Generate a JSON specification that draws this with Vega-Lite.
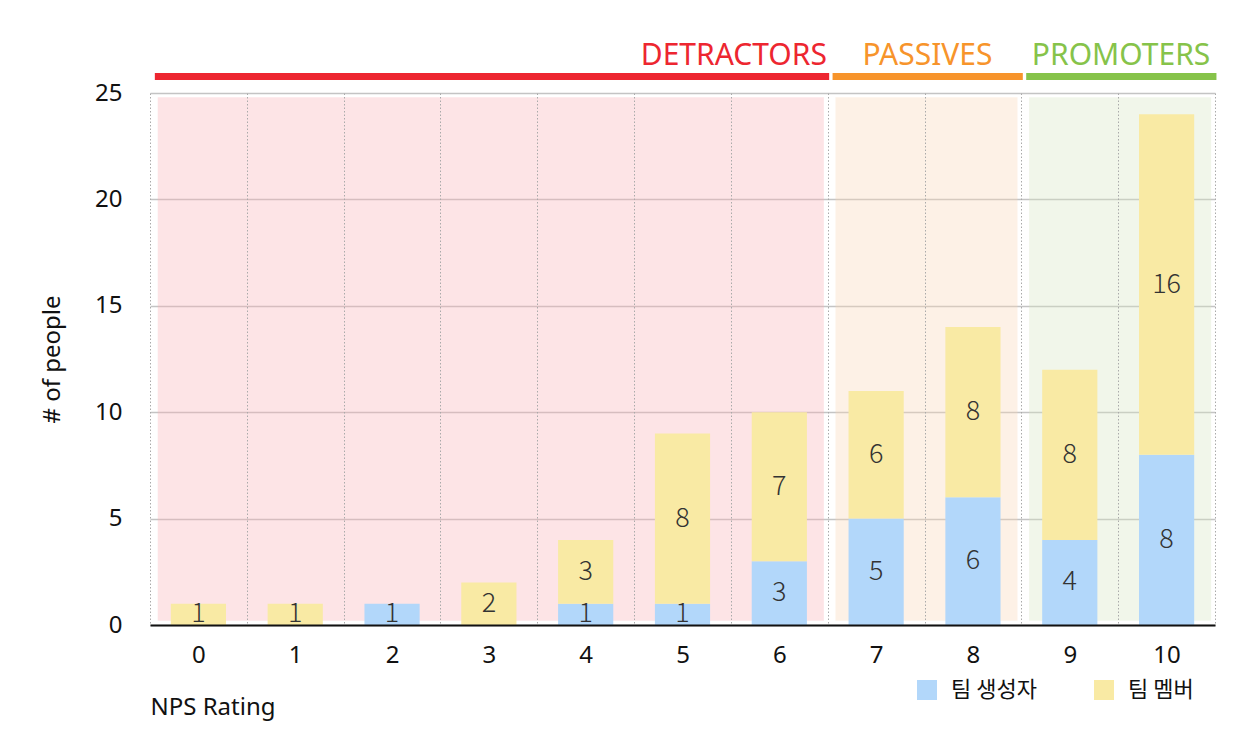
{
  "$schema": "https://vega.github.io/schema/vega-lite/v6.json",
  "width": 1065,
  "height": 532,
  "autosize": {"type": "none"},
  "padding": {"left": 150, "top": 93, "right": 43, "bottom": 123},
  "background": "white",
  "config": {
    "view": {"stroke": null},
    "font": "Noto Sans",
    "axisX": {
      "labelFontSize": 24, "labelColor": "#111", "labelPadding": 18, "labelAngle": 0,
      "ticks": false, "domain": true, "domainColor": "#111", "domainWidth": 2,
      "grid": true, "gridDash": [1.5, 2], "gridColor": "#aaaaaa", "gridWidth": 1, "tickBand": "extent",
      "titleAnchor": "start", "titleAlign": "left", "titleFontSize": 24, "titleFontWeight": "normal",
      "titleColor": "#111", "titlePadding": 28
    },
    "axisY": {
      "labelFontSize": 24, "labelColor": "#111", "labelPadding": 28,
      "ticks": false, "domain": false, "grid": true, "gridColor": "#c4c4c4", "gridWidth": 1.5,
      "titleFontSize": 24, "titleFontWeight": "normal", "titleColor": "#111", "titlePadding": 30
    },
    "legend": {
      "orient": "none", "legendX": 766, "legendY": 586, "direction": "horizontal",
      "symbolType": "square", "symbolSize": 400, "symbolStrokeWidth": 0,
      "labelFontSize": 22, "labelFont": "Noto Sans CJK KR", "labelColor": "#111", "labelOffset": 13,
      "columnPadding": 56, "title": null
    }
  },
  "datasets": {
    "nps": [
      {"rating": 0, "role": "팀 멤버", "count": 1},
      {"rating": 1, "role": "팀 멤버", "count": 1},
      {"rating": 2, "role": "팀 생성자", "count": 1},
      {"rating": 3, "role": "팀 멤버", "count": 2},
      {"rating": 4, "role": "팀 생성자", "count": 1},
      {"rating": 4, "role": "팀 멤버", "count": 3},
      {"rating": 5, "role": "팀 생성자", "count": 1},
      {"rating": 5, "role": "팀 멤버", "count": 8},
      {"rating": 6, "role": "팀 생성자", "count": 3},
      {"rating": 6, "role": "팀 멤버", "count": 7},
      {"rating": 7, "role": "팀 생성자", "count": 5},
      {"rating": 7, "role": "팀 멤버", "count": 6},
      {"rating": 8, "role": "팀 생성자", "count": 6},
      {"rating": 8, "role": "팀 멤버", "count": 8},
      {"rating": 9, "role": "팀 생성자", "count": 4},
      {"rating": 9, "role": "팀 멤버", "count": 8},
      {"rating": 10, "role": "팀 생성자", "count": 8},
      {"rating": 10, "role": "팀 멤버", "count": 16}
    ],
    "groups": [
      {"group": "DETRACTORS", "from": 0, "to": 6},
      {"group": "PASSIVES", "from": 7, "to": 8},
      {"group": "PROMOTERS", "from": 9, "to": 10}
    ]
  },
  "resolve": {"scale": {"color": "independent"}, "legend": {"color": "independent"}},
  "layer": [
    {
      "data": {"name": "groups"},
      "mark": {"type": "rect", "opacity": 0.35},
      "encoding": {
        "x": {"field": "from", "type": "ordinal", "bandPosition": 0.08, "title": "NPS Rating",
              "scale": {"type": "band", "domain": [0,1,2,3,4,5,6,7,8,9,10], "paddingInner": 0, "paddingOuter": 0}},
        "x2": {"field": "to", "bandPosition": 0.96},
        "y": {"datum": 24.8, "type": "quantitative", "scale": {"domain": [0, 25], "nice": false}},
        "y2": {"datum": 0.2},
        "color": {"field": "group", "type": "nominal", "legend": null,
                  "scale": {"domain": ["DETRACTORS", "PASSIVES", "PROMOTERS"], "range": ["#f9b2b8", "#f9d7b8", "#d7e5c3"]}}
      }
    },
    {
      "data": {"name": "nps"},
      "mark": {"type": "bar", "width": {"band": 0.57}},
      "encoding": {
        "x": {"field": "rating", "type": "ordinal", "title": "NPS Rating"},
        "y": {"field": "count", "type": "quantitative", "aggregate": "sum", "stack": "zero", "title": "# of people",
              "axis": {"values": [0, 5, 10, 15, 20, 25]}},
        "color": {"field": "role", "type": "nominal",
                  "scale": {"domain": ["팀 생성자", "팀 멤버"], "range": ["#b2d7fa", "#f9eaa4"]}},
        "order": {"field": "role", "sort": "descending"}
      }
    },
    {
      "data": {"name": "nps"},
      "mark": {"type": "text", "font": "Noto Sans CJK KR", "fontWeight": 200, "fontSize": 27, "color": "#333", "baseline": "middle"},
      "encoding": {
        "x": {"field": "rating", "type": "ordinal", "title": "NPS Rating"},
        "y": {"field": "count", "type": "quantitative", "aggregate": "sum", "stack": "zero", "bandPosition": 0.5, "title": "# of people"},
        "detail": {"field": "role"},
        "order": {"field": "role", "sort": "descending"},
        "text": {"field": "count", "aggregate": "sum"}
      }
    },
    {
      "data": {"name": "groups"},
      "mark": {"type": "rect"},
      "encoding": {
        "x": {"field": "from", "type": "ordinal", "bandPosition": 0.05, "title": "NPS Rating"},
        "x2": {"field": "to", "bandPosition": 1.015},
        "y": {"datum": 25.94, "type": "quantitative"},
        "y2": {"datum": 25.61},
        "color": {"field": "group", "type": "nominal", "legend": null,
                  "scale": {"domain": ["DETRACTORS", "PASSIVES", "PROMOTERS"], "range": ["#ed2630", "#f7942b", "#86c34a"]}}
      }
    },
    {
      "data": {"name": "groups"},
      "mark": {"type": "text", "fontSize": 30, "align": "center", "baseline": "alphabetic"},
      "encoding": {
        "x": {"field": "to", "type": "ordinal", "bandPosition": 0.03, "title": "NPS Rating"},
        "y": {"datum": 26.32, "type": "quantitative"},
        "text": {"field": "group"},
        "color": {"field": "group", "type": "nominal", "legend": null,
                  "scale": {"domain": ["DETRACTORS", "PASSIVES", "PROMOTERS"], "range": ["#ed2630", "#f7942b", "#86c34a"]}}
      }
    }
  ]
}
